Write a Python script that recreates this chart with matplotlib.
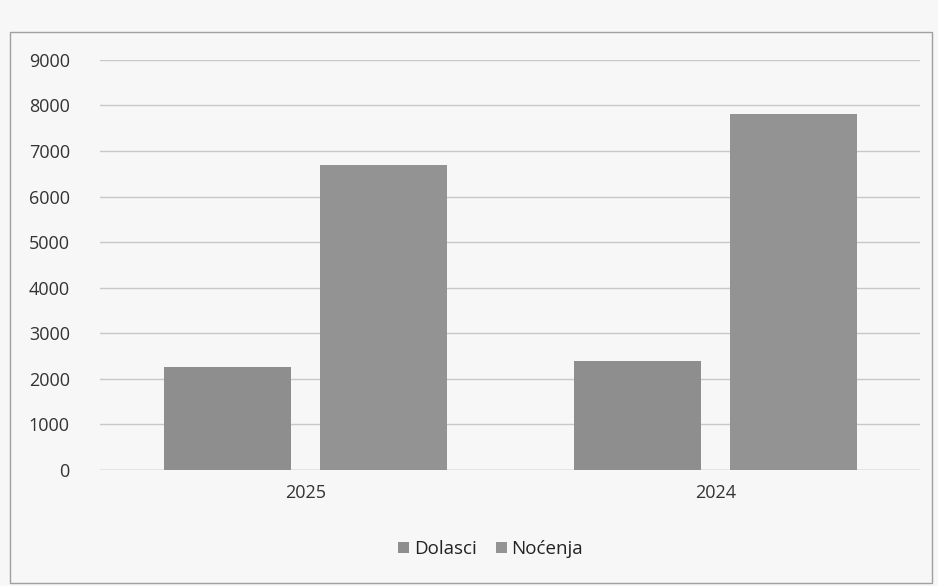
import matplotlib.pyplot as plt
import numpy as np
from matplotlib.patches import Rectangle

years = ["2025", "2024"]
series_names = ["Dolasci", "Noćenja"]
dolasci = [2250, 2400]
nocenja = [6700, 7800]
y_ticks = [0, 1000, 2000, 3000, 4000, 5000, 6000, 7000, 8000, 9000]

plt.rcParams['font.family'] = ['Open Sans', 'DejaVu Sans']

fig = plt.figure(figsize=(9.38, 5.86), dpi=100)
fig.patch.set_facecolor("#f7f7f7")

# outer chart border
fig.patches.append(Rectangle((10 / 938, 3 / 586), 922 / 938, 551 / 586,
                             transform=fig.transFigure, fill=False,
                             edgecolor="#a0a0a0", linewidth=1.0))

ax = fig.add_axes([0.107, 0.198, 0.874, 0.70])
ax.set_facecolor("#f7f7f7")

x = np.arange(len(years))
w = 0.31
ax.bar(x - 0.19, dolasci, w, color="#8e8e8e", label=series_names[0], zorder=3)
ax.bar(x + 0.19, nocenja, w, color="#939393", label=series_names[1], zorder=3)

ax.set_ylim(0, 9000)
ax.set_xlim(-0.5, 1.5)
ax.set_yticks(y_ticks)
ax.set_xticks(x)
ax.set_xticklabels(years)
ax.yaxis.grid(True, color="#c8c8c8", linewidth=1.0, zorder=0)
for s in ax.spines.values():
    s.set_visible(False)
ax.axhline(0, color="#c0c0c0", linewidth=1.0, zorder=1)
ax.tick_params(axis="both", length=0, labelsize=13, colors="#333333", pad=10)
ax.tick_params(axis="y", pad=22)

fig.legend(loc="center", bbox_to_anchor=(0.523, 0.063), ncol=2, frameon=False,
           fontsize=13.5, handlelength=0.6, handleheight=0.6, columnspacing=1.0,
           handletextpad=0.25, labelcolor="#222222")

fig.savefig("out.png", dpi=100, facecolor=fig.get_facecolor())
